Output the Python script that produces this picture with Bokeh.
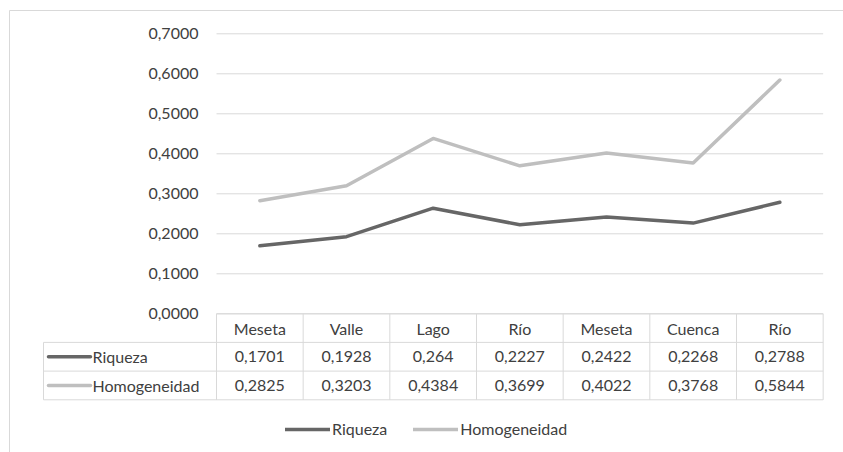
from bokeh.plotting import figure
from bokeh.models import (Range1d, LinearAxis, FixedTicker, CustomJSTickFormatter,
                          ColumnDataSource, Legend, LegendItem)
from bokeh.core.properties import value
from bokeh.embed import file_html
from bokeh.resources import INLINE

# ---------------- data ----------------
categories = ["Meseta", "Valle", "Lago", "Río", "Meseta", "Cuenca", "Río"]
riqueza = [0.1701, 0.1928, 0.264, 0.2227, 0.2422, 0.2268, 0.2788]
homogeneidad = [0.2825, 0.3203, 0.4384, 0.3699, 0.4022, 0.3768, 0.5844]
series_names = ["Riqueza", "Homogeneidad"]
y_ticks = [0.0, 0.1, 0.2, 0.3, 0.4, 0.5, 0.6, 0.7]

# ---------------- style ----------------
W, H = 843, 452
FONT = "Lato"
FS = "16px"
TEXT_COLOR = "#404040"
GRID = "#d9d9d9"
C_RIQ = "#666666"
C_HOM = "#bfbfbf"
LW = 3.5


def X(px):
    return -0.5 + (px - 216.0) / 86.667


def Y(py):
    return (313.3 - py) / 400.0


p = figure(width=W, height=H,
           x_range=Range1d(X(0), X(W)), y_range=Range1d(Y(H), Y(0)),
           output_backend="svg", toolbar_location=None,
           x_axis_location=None, y_axis_location=None,
           min_border=0, outline_line_color=None)
for g in p.grid:
    g.visible = False
p.background_fill_color = "white"
p.border_fill_color = "white"

# chart border (left + top)
p.segment(x0=[X(9), X(9)], y0=[Y(10), Y(10)], x1=[X(9), X(870)], y1=[Y(480), Y(10)],
          line_color=GRID, line_width=1)

# y axis
yaxis = LinearAxis(ticker=FixedTicker(ticks=y_ticks),
                   formatter=CustomJSTickFormatter(code="return tick.toFixed(4).replace('.', ',');"),
                   fixed_location=-0.5,
                   axis_line_color=None, major_tick_line_color=None, minor_tick_line_color=None,
                   major_tick_out=0, major_tick_in=0, major_label_standoff=18,
                   major_label_text_font=FONT, major_label_text_font_size=FS,
                   major_label_text_color=TEXT_COLOR)
p.add_layout(yaxis, "left")

n = len(categories)
xs = list(range(n))

# gridlines
p.segment(x0=[-0.5] * len(y_ticks), x1=[n - 0.5] * len(y_ticks), y0=y_ticks, y1=y_ticks,
          line_color=GRID, line_width=1)

# lines
r1 = p.line(xs, riqueza, line_color=C_RIQ, line_width=LW, line_cap="round", line_join="round")
r2 = p.line(xs, homogeneidad, line_color=C_HOM, line_width=LW, line_cap="round", line_join="round")

# data table
rows_px = [313.3, 341.9, 370.6, 399.3]
tl = X(43)
hx0 = [-0.5] + [tl] * 3
hx1 = [n - 0.5] * 4
hy = [Y(r) for r in rows_px]
p.segment(x0=hx0, x1=hx1, y0=hy, y1=hy, line_color=GRID, line_width=1)
vx = [k - 0.5 for k in range(n + 1)]
p.segment(x0=vx, x1=vx, y0=[0.0] * len(vx), y1=[Y(rows_px[3])] * len(vx),
          line_color=GRID, line_width=1)
p.segment(x0=[tl], x1=[tl], y0=[Y(rows_px[1])], y1=[Y(rows_px[3])], line_color=GRID, line_width=1)

row_c = [Y((rows_px[i] + rows_px[i + 1]) / 2) for i in range(3)]


def fmt(v):
    return str(v).replace(".", ",")


tsrc = ColumnDataSource(dict(
    x=xs * 3,
    y=[row_c[0]] * n + [row_c[1]] * n + [row_c[2]] * n,
    t=categories + [fmt(v) for v in riqueza] + [fmt(v) for v in homogeneidad],
))
p.text(x="x", y="y", text="t", source=tsrc, text_align="center", text_baseline="middle",
       text_font=value(FONT), text_font_size=value(FS), text_color=TEXT_COLOR)

# row keys
p.segment(x0=[X(48)] * 2, x1=[X(90)] * 2, y0=row_c[1:], y1=row_c[1:],
          line_color=[C_RIQ, C_HOM], line_width=LW, line_cap="round")
p.text(x=[X(92)] * 2, y=row_c[1:], text=series_names, text_align="left", text_baseline="middle",
       text_font=value(FONT), text_font_size=value(FS), text_color=TEXT_COLOR)

# legend
legend = Legend(items=[LegendItem(label=series_names[0], renderers=[r1]),
                       LegendItem(label=series_names[1], renderers=[r2])],
                orientation="horizontal", location=(285, 14),
                glyph_width=45, glyph_height=16, label_standoff=2, spacing=26,
                padding=0, margin=0, border_line_color=None, background_fill_alpha=0,
                label_text_font=FONT, label_text_font_size=FS, label_text_color=TEXT_COLOR)
p.add_layout(legend)

open("out.html", "w").write(file_html(p, INLINE))
